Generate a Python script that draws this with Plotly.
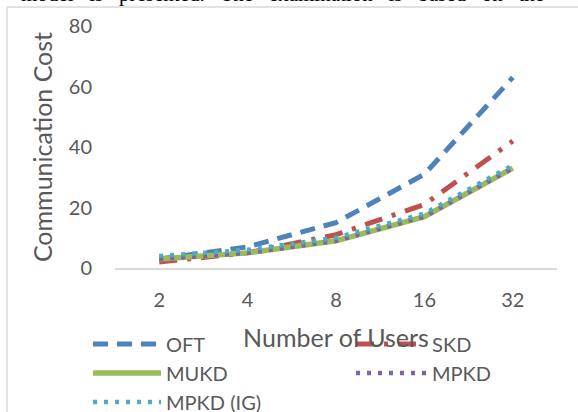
import plotly.graph_objects as go

users = ["2", "4", "8", "16", "32"]
oft = [3, 7, 15, 31, 63]
skd = [2, 5, 11, 21, 42]
mukd = [3, 5, 9, 17, 33]
mpkd = [3, 5, 9, 17, 33]
mpkd_ig = [4, 6, 10, 18, 34]

FONT = "Lato"
GREY = "#595959"

fig = go.Figure()
fig.add_trace(go.Scatter(x=users, y=oft, name="OFT", mode="lines", legend="legend",
                         line=dict(color="#4F81BD", width=5, dash="15px,9px")))
fig.add_trace(go.Scatter(x=users, y=skd, name="SKD", mode="lines", legend="legend2",
                         line=dict(color="#C0504D", width=5, dash="18px,10px,4px,10px")))
fig.add_trace(go.Scatter(x=users, y=mukd, name="MUKD", mode="lines", legend="legend",
                         line=dict(color="#9BBB59", width=5.5)))
fig.add_trace(go.Scatter(x=users, y=mpkd, name="MPKD", mode="lines", legend="legend2",
                         line=dict(color="#8064A2", width=4.5, dash="4px,7px")))
fig.add_trace(go.Scatter(x=users, y=mpkd_ig, name="MPKD (IG)", mode="lines", legend="legend",
                         line=dict(color="#4BACC6", width=4.5, dash="4px,7px")))

leg_common = dict(orientation="v", yanchor="top", xanchor="left",
                  font=dict(family=FONT, size=20, color=GREY),
                  bgcolor="rgba(0,0,0,0)", traceorder="normal", tracegroupgap=0)

sp = "\u00a0\u00a0\u00a0"
top_text = sp.join(["model", "is", "presented.", "The", "examination", "is", "based", "on", "the"])

fig.update_layout(
    width=578, height=412,
    margin=dict(l=115, r=21, t=26, b=144, autoexpand=False),
    paper_bgcolor="white", plot_bgcolor="white",
    font=dict(family=FONT, color=GREY, size=20),
    showlegend=True,
    legend=dict(x=-0.061, y=-0.2335, itemwidth=68, **leg_common),
    legend2=dict(x=0.534, y=-0.2335, itemwidth=71, **leg_common),
    xaxis=dict(type="category", range=[-0.5, 4.5], showgrid=False, zeroline=False,
               showline=True, linecolor="#D9D9D9", linewidth=1.5,
               ticks="", ticklabelstandoff=13, tickfont=dict(size=20),
               title=dict(text="Number of Users", standoff=20,
                          font=dict(family=FONT, size=25, color=GREY))),
    yaxis=dict(range=[0, 80], dtick=20, showgrid=False, zeroline=False,
               showline=False, ticks="", ticklabelstandoff=22, tickfont=dict(size=20),
               title=dict(text="Communication Cost", standoff=9,
                          font=dict(family=FONT, size=25, color=GREY))),
    shapes=[
        dict(type="line", xref="paper", yref="paper", x0=-0.2443, x1=1.05,
             y0=1.0785, y1=1.0785, line=dict(color="#D9D9D9", width=1.5)),
        dict(type="line", xref="paper", yref="paper", x0=-0.2443, x1=-0.2443,
             y0=1.0785, y1=-0.6, line=dict(color="#D9D9D9", width=1.5)),
    ],
    annotations=[
        dict(text=top_text,
             xref="paper", yref="paper", x=0.378, y=1.0735, xanchor="center",
             yanchor="bottom", showarrow=False,
             font=dict(family="Liberation Serif", size=21, color="black")),
    ],
)

fig.write_html("out.html")
